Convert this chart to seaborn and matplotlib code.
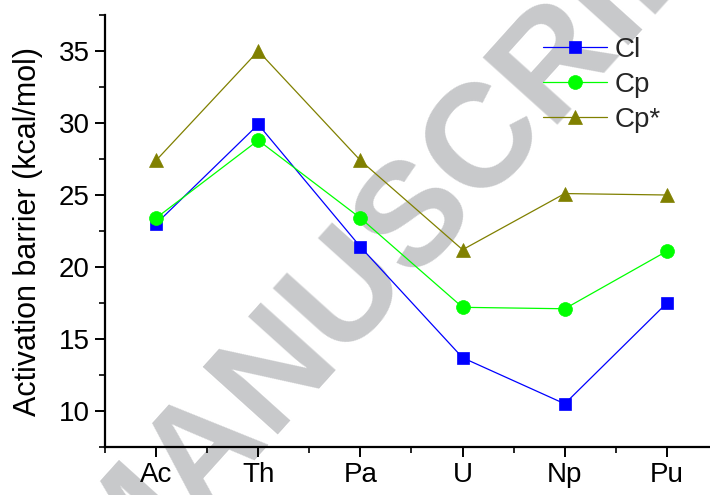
import matplotlib
matplotlib.use("Agg")
import matplotlib.pyplot as plt
import seaborn as sns
import pandas as pd
from matplotlib.ticker import MultipleLocator, FixedLocator

elements = ["Ac", "Th", "Pa", "U", "Np", "Pu"]
cl_values = [23.0, 29.9, 21.4, 13.7, 10.5, 17.5]
cp_values = [23.4, 28.8, 23.4, 17.2, 17.1, 21.1]
cpstar_values = [27.4, 35.0, 27.4, 21.2, 25.1, 25.0]
series_names = ["Cl", "Cp", "Cp*"]
y_ticks = [10, 15, 20, 25, 30, 35]

sns.set_theme(style="ticks")
plt.rcParams["font.family"] = ["Liberation Sans", "DejaVu Sans"]

fig = plt.figure(figsize=(7.1, 4.95), dpi=100)
ax = fig.add_axes([105/710, 1-447/495, (718-105)/710, (447-15)/495])
ax.patch.set_alpha(0)

# watermark
ax.text(416/710, 1-214/495, "MANUSCRIPT", transform=fig.transFigure,
        rotation=48, rotation_mode="anchor", ha="center", va="center",
        fontsize=106, fontweight="bold", color="#c8c9cb", zorder=0.5,
        clip_on=False, family="Liberation Sans")

styles = [
    (cl_values, "#0000ff", "s", 8.5),
    (cp_values, "#00ff00", "o", 10),
    (cpstar_values, "#808000", "^", 10.5),
]
for name, (vals, col, mk, ms) in zip(series_names, styles):
    df = pd.DataFrame({"element": elements, "barrier": vals})
    sns.lineplot(data=df, x="element", y="barrier", ax=ax, sort=False,
                 color=col, marker=mk, markersize=ms, linewidth=0.9,
                 markeredgecolor=col, markeredgewidth=0.5, label=name,
                 zorder=3)

ax.set_xlim(-0.5, 5.5)
ax.set_ylim(7.5, 37.5)
ax.yaxis.set_major_locator(FixedLocator(y_ticks))
ax.yaxis.set_minor_locator(MultipleLocator(2.5))
ax.xaxis.set_minor_locator(FixedLocator([i + 0.5 for i in range(-1, 6)]))

for s in ["top", "right"]:
    ax.spines[s].set_visible(False)
for s in ["left", "bottom"]:
    ax.spines[s].set_linewidth(1.6)
    ax.spines[s].set_color("black")

ax.tick_params(axis="both", which="major", length=7, width=1.4,
               labelsize=20, color="black", labelcolor="black", pad=4)
ax.tick_params(axis="both", which="minor", length=4, width=1.2, color="black")

ax.set_xlabel("")
ax.set_ylabel("Activation barrier (kcal/mol)", fontsize=22, labelpad=11,
              color="black")

leg = ax.legend(loc="upper left", bbox_to_anchor=(543/710, 1-37/495),
                bbox_transform=fig.transFigure, frameon=False, fontsize=20,
                handlelength=2.3, handletextpad=0.28, labelspacing=0.32,
                borderpad=0, borderaxespad=0)

fig.savefig("out.png", dpi=100)
